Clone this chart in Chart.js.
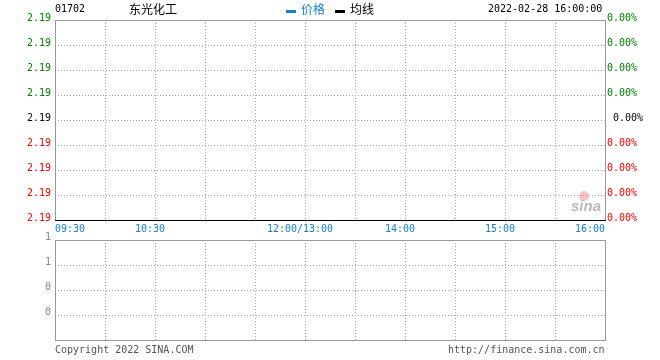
<!DOCTYPE html>
<html lang="zh-cn">
<head>
  <meta charset="UTF-8" />
  <title>东光化工 01702</title>
  <script src="https://cdn.jsdelivr.net/npm/chart.js"></script>
  <style>
    * { box-sizing: border-box; }
    body { margin: 0; background: #fff; }
    #wrap { position: relative; width: 660px; height: 360px; overflow: hidden; }
    canvas { position: absolute; left: 0; top: 0; }
    .t { position: absolute; white-space: pre; font-family: 'DejaVu Sans Mono', monospace; font-size: 10px; line-height: 12px; color: #000; }
    .cn { position: absolute; white-space: pre; font-family: 'Noto Sans CJK SC', sans-serif; font-size: 12px; line-height: 14px; color: #000; }
    .bar { position: absolute; width: 10px; height: 3px; }
  </style>
</head>
<body>
  <div id="wrap">
    <canvas id="priceChart" width="660" height="360"></canvas>
    <canvas id="volChart" width="660" height="360"></canvas>

    <div class="t" style="left:55px; top:3px">01702</div>
    <div class="cn" style="left:129px; top:2px">东光化工</div>
    <div class="bar" style="left:286px; top:10px; background:#1a7dc8"></div>
    <div class="cn" style="left:301px; top:2px; color:#1a7dc8">价格</div>
    <div class="bar" style="left:335px; top:10px; background:#000"></div>
    <div class="cn" style="left:350px; top:2px">均线</div>
    <div class="t" style="left:488px; top:3px">2022-02-28 16:00:00</div>

    <div class="t" style="left:55px; top:344px; color:#555">Copyright 2022 SINA.COM</div>
    <div class="t" style="left:448px; top:344px; color:#555">http://finance.sina.com.cn</div>
  </div>

  <script>
    // minutes of trading since 09:30 (lunch break squeezed out)
    const gridMinutes = [0, 30, 60, 90, 120, 150, 180, 210, 240, 270, 300, 330];
    const timeLabelAt = [0, 60, 150, 210, 270, 330];
    const timeLabels = ['09:30', '10:30', '12:00/13:00', '14:00', '15:00', '16:00'];

    // price axis, top to bottom
    const priceLabels = ['2.19', '2.19', '2.19', '2.19', '2.19', '2.19', '2.19', '2.19', '2.19'];
    const pctLabels = ['0.00%', '0.00%', '0.00%', '0.00%', ' 0.00%', '0.00%', '0.00%', '0.00%', '0.00%'];
    const levelColors = ['#008000', '#008000', '#008000', '#008000', '#000000', '#ff0000', '#ff0000', '#ff0000', '#ff0000'];

    // volume axis, top to bottom
    const volLabels = ['1', '1', '0', '0', ''];

    // no trades yet: empty series
    const priceValues = [];
    const avgValues = [];
    const volumeValues = [];

    const MONO = { family: "'DejaVu Sans Mono', monospace", size: 10 };
    const BLUE = '#1a7dc8';
    const GRID = '#aaaaaa';

    const framePlugin = {
      id: 'frame',
      afterDraw(chart, args, opts) {
        const { ctx, chartArea: a } = chart;
        ctx.save();
        ctx.lineWidth = 1;
        ctx.strokeStyle = '#999';
        ctx.strokeRect(a.left + 0.5, a.top + 0.5, a.right - a.left, a.bottom - a.top);
        if (opts.bottomColor) {
          ctx.strokeStyle = opts.bottomColor;
          ctx.beginPath();
          ctx.moveTo(a.left, a.bottom + 0.5);
          ctx.lineTo(a.right + 1, a.bottom + 0.5);
          ctx.stroke();
        }
        if (opts.logo) {
          // sina watermark
          ctx.fillStyle = 'rgba(235, 110, 110, 0.4)';
          ctx.beginPath();
          ctx.arc(584, 196, 5, 0, Math.PI * 2);
          ctx.fill();
          ctx.fillStyle = 'rgba(130, 130, 130, 0.55)';
          ctx.font = "italic bold 15px 'Liberation Sans', sans-serif";
          ctx.textBaseline = 'alphabetic';
          ctx.fillText('sina', 571, 211);
        }
        ctx.restore();
      }
    };

    const levelTicks = (labels) => (v) => labels[labels.length - 1 - v];

    new Chart(document.getElementById('priceChart'), {
      type: 'line',
      data: {
        datasets: [
          { label: '价格', data: priceValues, borderColor: BLUE, borderWidth: 1, pointRadius: 0, xAxisID: 'x', yAxisID: 'y' },
          { label: '均线', data: avgValues, borderColor: '#000', borderWidth: 1, pointRadius: 0, xAxisID: 'x', yAxisID: 'y' }
        ]
      },
      options: {
        responsive: false,
        animation: false,
        events: [],
        layout: { padding: { top: 20, bottom: 140, left: 0, right: 0 } },
        plugins: {
          legend: { display: false },
          tooltip: { enabled: false },
          frame: { bottomColor: '#000', logo: true }
        },
        scales: {
          x: {
            type: 'linear', min: 0, max: 330, position: { y: 0 },
            afterBuildTicks: s => { s.ticks = gridMinutes.map(v => ({ value: v })); },
            afterFit: s => { s.height = 0; },
            grid: { color: GRID, drawTicks: false },
            border: { display: false, dash: [1, 2] },
            ticks: {
              autoSkip: false, maxRotation: 0, align: 'inner', padding: 3,
              font: MONO, color: BLUE,
              callback: (v, i, t) => (i === 0 || i === t.length - 1) ? timeLabels[timeLabelAt.indexOf(v)] : ''
            }
          },
          xm: {
            type: 'linear', min: 0, max: 330, position: { y: 0 },
            afterBuildTicks: s => { s.ticks = timeLabelAt.slice(1, -1).map(v => ({ value: v })); },
            afterFit: s => { s.height = 0; },
            grid: { display: false, drawTicks: false },
            border: { display: false },
            ticks: {
              autoSkip: false, maxRotation: 0, labelOffset: -5, padding: 3,
              font: MONO, color: BLUE,
              callback: v => timeLabels[timeLabelAt.indexOf(v)]
            }
          },
          y: {
            type: 'linear', min: 0, max: 8, position: 'left',
            afterFit: s => { s.width = 55; },
            grid: { color: GRID, drawTicks: false },
            border: { display: false, dash: [1, 2] },
            ticks: {
              stepSize: 1, padding: 4, labelOffset: -2, font: MONO,
              color: c => levelColors[8 - c.tick.value],
              callback: levelTicks(priceLabels)
            }
          },
          y1: {
            type: 'linear', min: 0, max: 8, position: 'right',
            afterFit: s => { s.width = 55; },
            grid: { display: false, drawTicks: false },
            border: { display: false },
            ticks: {
              stepSize: 1, padding: 2, labelOffset: -2, font: MONO,
              color: c => levelColors[8 - c.tick.value],
              callback: levelTicks(pctLabels)
            }
          }
        }
      },
      plugins: [framePlugin]
    });

    new Chart(document.getElementById('volChart'), {
      type: 'bar',
      data: {
        datasets: [
          { label: '成交量', data: volumeValues, backgroundColor: BLUE, xAxisID: 'x', yAxisID: 'y' }
        ]
      },
      options: {
        responsive: false,
        animation: false,
        events: [],
        layout: { padding: { top: 240, bottom: 20, left: 0, right: 55 } },
        plugins: {
          legend: { display: false },
          tooltip: { enabled: false },
          frame: {}
        },
        scales: {
          x: {
            type: 'linear', min: 0, max: 330, position: 'bottom', offset: false,
            afterBuildTicks: s => { s.ticks = gridMinutes.map(v => ({ value: v })); },
            afterFit: s => { s.height = 0; },
            grid: { color: GRID, drawTicks: false, offset: false },
            border: { display: false, dash: [1, 2] },
            ticks: { display: false }
          },
          y: {
            type: 'linear', min: 0, max: 4, position: 'left',
            afterFit: s => { s.width = 55; },
            grid: { color: GRID, drawTicks: false },
            border: { display: false, dash: [1, 2] },
            ticks: {
              stepSize: 1, padding: 4, labelOffset: -3, font: MONO, color: '#888',
              callback: levelTicks(volLabels)
            }
          }
        }
      },
      plugins: [framePlugin]
    });
  </script>
</body>
</html>
